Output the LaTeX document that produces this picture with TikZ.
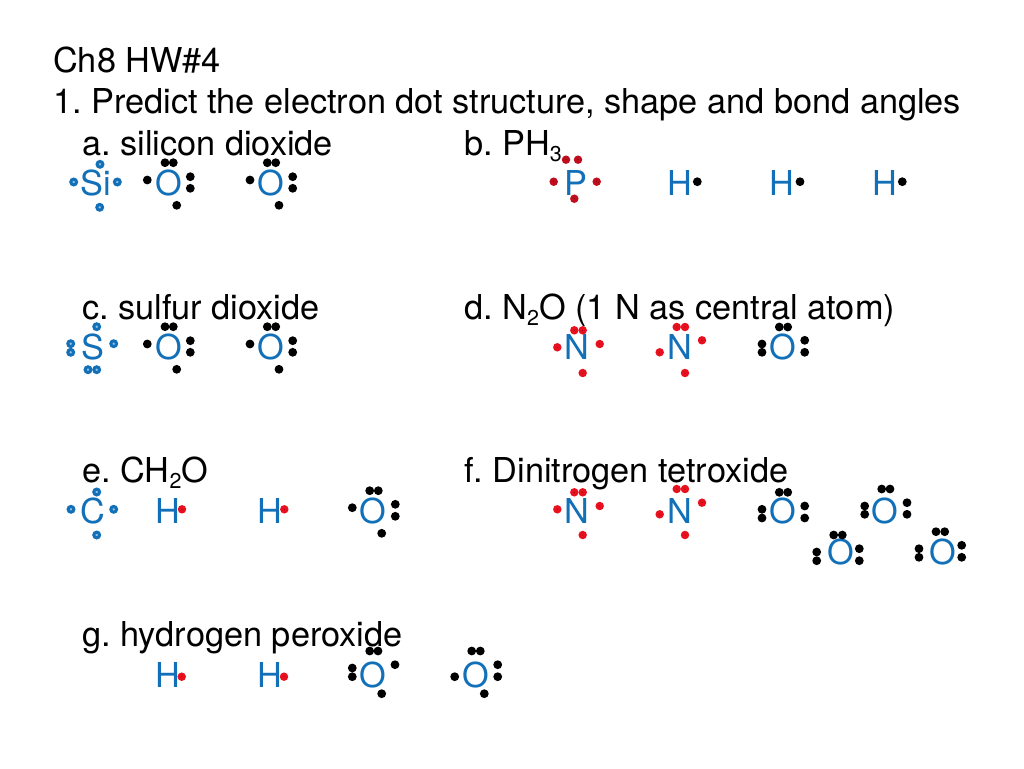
\documentclass[tikz,border=0pt]{standalone}
\usepackage{fontspec}
\setmainfont{TeX Gyre Heros}
\usetikzlibrary{positioning}
\definecolor{atomblue}{HTML}{1170B8}
\definecolor{dotred}{HTML}{E8101E}
\definecolor{dotdark}{HTML}{C00D1E}
\newcommand{\subnum}[1]{\raisebox{-0.2em}{\fontsize{21.5}{22}\selectfont #1}}
\frenchspacing
\tikzset{%
textline/.style={anchor=base west,inner sep=0,font=\fontsize{34.3}{40}\selectfont},
atom/.style={anchor=base,inner sep=0,text=atomblue,font=\fontsize{34.3}{40}\selectfont},
blackdot/.style={circle,fill=black,inner sep=0,minimum size=8.8pt},
bluedot/.style={circle,draw=atomblue,line width=3pt,fill=atomblue!45,inner sep=0,minimum size=5.8pt},
reddot/.style={circle,draw=dotred,line width=3.4pt,fill=black!70!dotred,inner sep=0,minimum size=4.8pt},
darkdot/.style={reddot,draw=dotdark}
}
\begin{document}
\begin{tikzpicture}[x=1pt,y=-1pt]

    \path[use as bounding box,fill=white] (0,0) rectangle (1024,768);

    \node[textline] (title) at (53,72) {Ch8 HW\#4};
    \node[textline] (task) at (53,113) {1. Predict the electron dot structure, shape and bond angles};
    \node[textline] (parta) at (82,155) {a. silicon dioxide};
    \node[textline] (partb) at (464,155) {b. PH\subnum{3}};
    \node[textline] (partc) at (82,319) {c. sulfur dioxide};
    \node[textline] (partd) at (464,319) {d. N\subnum{2}O (1 N as central atom)};
    \node[textline] (parte) at (82,482) {e. CH\subnum{2}O};
    \node[textline] (partf) at (464,482) {f. Dinitrogen tetroxide};
    \node[textline] (partg) at (82,646) {g. hydrogen peroxide};

    % atoms, row by row
    \foreach \x/\y/\t [count=\i] in {95.7/195.5/Si,169/195.5/O,271.3/195.5/O,576.3/195.5/P,679.7/195.5/H,782.3/195.5/H,884.7/195.5/H,
        92.7/359.5/S,169/359.5/O,271.3/359.5/O,577/359.5/N,679.7/359.5/N,783/359.5/O,
        93.3/523.5/C,167.7/523.5/H,270/523.5/H,373.3/523.5/O,577/523.5/N,679.7/523.5/N,783/523.5/O,885.3/523.5/O,841.3/564.5/O,942.7/564.5/O,
        167.7/687.5/H,270/687.5/H,373.3/687.5/O,475.7/687.5/O}
        \node[atom] (atom\i) at (\x,\y) {\t};

    % silicon, sulfur, carbon
    \foreach \x/\y [count=\i] in {100/164.3,73.7/182,117.3/182,99.7/207.3,
        96.7/326.7,70.7/343.7,70.7/352.3,113.7/343.7,88/369.7,96.7/369.7,
        96.7/492,71/509.3,113.7/509.3,96.7/535}
        \node[bluedot] (blue\i) at (\x,\y) {};

    % phosphorus
    \foreach \x/\y [count=\i] in {566/159.7,578/159.7,553.7/181.7,596.7/181.7,574.3/198.7}
        \node[darkdot] (dark\i) at (\x,\y) {};

    % nitrogen, hydrogen
    \foreach \x/\y [count=\i] in {574.3/330.3,582.7/330.3,557.3/347.3,599.7/344,582.7/373,
        676.7/327,685/327,659.7/352.3,702/340.3,685/373,
        182/509.3,284.3/509.3,
        574.3/492.3,582.7/492.3,557.3/509.3,599.7/506,582.7/535,
        676.7/489,685/489,659.7/514.3,702/502.7,685/535,
        181.7/676.7,284/676.7}
        \node[reddot] (red\i) at (\x,\y) {};

    % oxygen and the hydrogens of PH3
    \foreach \x/\y [count=\i] in {165/162.7,173.3/162.7,147.3/180,190.3/176.7,190.3/188.3,176.7/205.3,
        267.3/162.7,275.7/162.7,250/180,292.7/176.7,292.7/188.3,279/205.3,
        697.3/181.7,800/181.7,902.3/181.7,
        165/326.7,173.3/326.7,147.3/344,190.3/340.7,190.3/352.3,176.7/369.3,
        267.3/326.7,275.7/326.7,250/344,292.7/340.7,292.7/352.3,279/369.3,
        779.3/327,787.7/327,762/344,762/352.3,804.7/340.3,804.7/352.3,
        369.7/490.7,378.3/490.7,352.3/507.7,395.3/504.3,395.3/516.3,381.7/533.3,
        779.3/492.3,787.7/492.3,762/509.3,762/518,804.7/506,804.7/518,
        881.7/489,890/489,864.7/506,864.7/514.3,907/502.7,907/514.3,
        833.7/535,842.3/535,816.7/552,816.7/560.7,859.3/548.7,859.3/560.7,
        936/531.7,944.7/531.7,919/548.7,919/557.3,961.7/545.3,961.7/557.3,
        369.7/651,378/651,352.3/668,352.3/676.7,395/664.7,381.7/693.7,
        471.7/651,480.3/651,454.7/676.7,497.7/664.7,497.7/676.7,484.3/693.7}
        \node[blackdot] (black\i) at (\x,\y) {};

\end{tikzpicture}
\end{document}
